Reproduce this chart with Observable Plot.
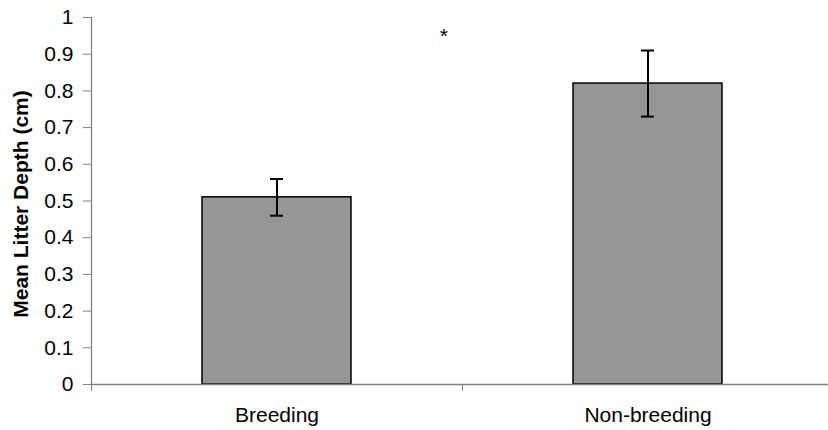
<!DOCTYPE html>
<html>
<head>
<meta charset="utf-8">
<script src="https://cdn.jsdelivr.net/npm/d3@7"></script>
<script src="https://cdn.jsdelivr.net/npm/@observablehq/plot@0.6"></script>
<style>
  html, body { margin: 0; padding: 0; background: white; }
</style>
</head>
<body>
<div id="chart"></div>
<script>
const categories = ["Breeding", "Non-breeding"];
const means = [0.51, 0.82];
const errors = [0.05, 0.09];
const yTicks = [0, 0.1, 0.2, 0.3, 0.4, 0.5, 0.6, 0.7, 0.8, 0.9, 1];
const yTickLabels = ["0", "0.1", "0.2", "0.3", "0.4", "0.5", "0.6", "0.7", "0.8", "0.9", "1"];
const yLabel = "Mean Litter Depth (cm)";
const annotations = [{text: "*", x: 0.95, y: 0.95}];

const data = categories.map((c, i) => ({
  c, i, mean: means[i], lo: means[i] - errors[i], hi: means[i] + errors[i]
}));

const axisGray = "#808080";

const chart = Plot.plot({
  width: 828,
  height: 430,
  marginLeft: 91,
  marginRight: -5,
  marginTop: 17,
  marginBottom: 46,
  style: {fontFamily: "'Liberation Sans', Arial, sans-serif", fontSize: "21px", background: "white", color: "black"},
  x: {domain: [0, categories.length], axis: null},
  y: {domain: [0, 1], axis: null},
  marks: [
    Plot.rectY(data, {x1: "i", x2: d => d.i + 1, y1: 0, y2: "mean", insetLeft: 111, insetRight: 111,
      fill: "#969696", stroke: "black", strokeWidth: 1.5}),
    Plot.ruleX(data, {x: d => d.i + 0.5, y1: "lo", y2: "hi", stroke: "black", strokeWidth: 2}),
    Plot.ruleY(data, {x1: d => d.i + 0.5, x2: d => d.i + 0.5, y: "hi", insetLeft: -6.5, insetRight: -6.5, stroke: "black", strokeWidth: 2}),
    Plot.ruleY(data, {x1: d => d.i + 0.5, x2: d => d.i + 0.5, y: "lo", insetLeft: -6.5, insetRight: -6.5, stroke: "black", strokeWidth: 2}),
    Plot.ruleY([0], {stroke: axisGray, strokeWidth: 1.3}),
    Plot.ruleX([0], {y1: 0, y2: 1, stroke: axisGray, strokeWidth: 1.3}),
    Plot.axisY({ticks: yTicks, tickFormat: (d, i) => yTickLabels[i], tickSize: 8, tickPadding: 10,
      stroke: axisGray, fill: "black", label: null}),
    Plot.axisX({ticks: d3.range(categories.length + 1), tickFormat: () => "", tickSize: 7,
      stroke: axisGray, label: null}),
    Plot.axisX({ticks: categories.map((c, i) => i + 0.5), tickFormat: d => categories[Math.floor(d)],
      tickSize: 0, tickPadding: 23, fill: "black", label: null}),
    Plot.text(annotations, {x: "x", y: "y", text: "text", fill: "black"}),
    Plot.text([yLabel], {frameAnchor: "left", textAnchor: "middle", lineAnchor: "middle", rotate: -90,
      dx: -70, dy: 3, fontWeight: "bold", fill: "black", text: d => d})
  ]
});
document.getElementById("chart").appendChild(chart);
</script>
</body>
</html>
